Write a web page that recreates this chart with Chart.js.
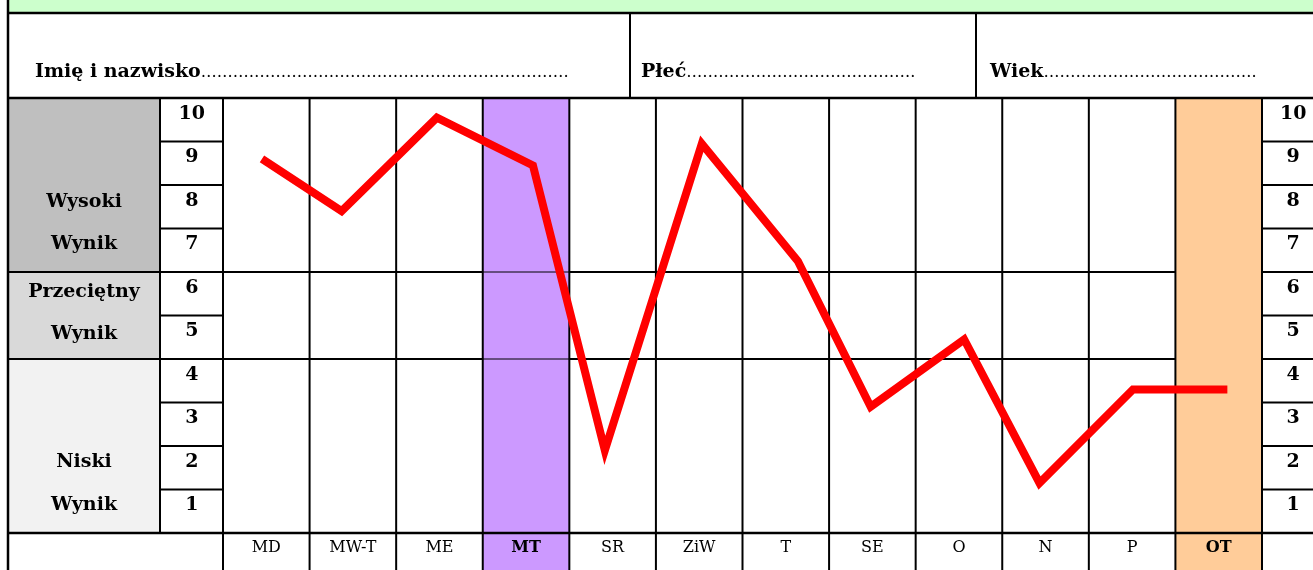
<!DOCTYPE html>
<html lang="pl">
<head>
<meta charset="utf-8">
<title>Profil wyników</title>
<script src="https://cdn.jsdelivr.net/npm/chart.js@4"></script>
<style>
    body { margin: 0; width: 1313px; height: 570px; overflow: hidden; background: #fff; position: relative; font-family: 'DejaVu Serif', serif; color: #000; }
    #wrap { position: absolute; left: 0; top: 0; width: 1326px; height: 580px; }
    .lbl { position: absolute; font-weight: bold; font-size: 19px; line-height: 20px; white-space: nowrap; }
    .dots { font-weight: normal; font-size: 16px; }
    .side { left: 8px; width: 152px; text-align: center; }
</style>
</head>
<body>
<div id="wrap"><canvas id="profileChart" width="1326" height="580"></canvas></div>

<div class="lbl" style="left:35px; top:60px;">Imię i nazwisko<span class="dots">……………………………………………………………</span></div>
<div class="lbl" style="left:641px; top:60px;">Płeć<span class="dots">…………………………………….</span></div>
<div class="lbl" style="left:990px; top:60px;">Wiek<span class="dots">………………………………….</span></div>

<div class="lbl side" style="top:190px;">Wysoki</div>
<div class="lbl side" style="top:232px;">Wynik</div>
<div class="lbl side" style="top:280px;">Przeciętny</div>
<div class="lbl side" style="top:322px;">Wynik</div>
<div class="lbl side" style="top:450px;">Niski</div>
<div class="lbl side" style="top:493px;">Wynik</div>

<script>
// dane
const categories = ['MD', 'MW-T', 'ME', 'MT', 'SR', 'ZiW', 'T', 'SE', 'O', 'N', 'P', 'OT'];
const xPositions = [0.45, 1.37, 2.47, 3.58, 4.41, 5.53, 6.64, 7.48, 8.56, 9.43, 10.51, 11.60];
const scores = [9.1, 7.9, 10.05, 8.95, 2.4, 9.45, 6.75, 3.4, 4.95, 1.65, 3.8, 3.8];
const scoreTicks = [10, 9, 8, 7, 6, 5, 4, 3, 2, 1];
const zoneBreaks = [6.5, 4.5];          // granice: wysoki / przeciętny / niski
const highlighted = { MT: '#CC99FF', OT: '#FFCC99' };
const boldCategories = ['MT', 'OT'];

const LINE = '#000';

// rysowanie ramki formularza (tła, linie tabeli)
const formPlugin = {
    id: 'formPlugin',
    beforeDraw(chart) {
        const { ctx, width, height, chartArea: a, scales: { x, y } } = chart;
        ctx.save();
        ctx.fillStyle = '#CCFFCC';
        ctx.fillRect(8, 0, width, 13);

        const yHigh = y.getPixelForValue(zoneBreaks[0]);
        const yLow = y.getPixelForValue(zoneBreaks[1]);
        ctx.fillStyle = '#BFBFBF';
        ctx.fillRect(8, a.top, 152, yHigh - a.top);
        ctx.fillStyle = '#D9D9D9';
        ctx.fillRect(8, yHigh, 152, yLow - yHigh);
        ctx.fillStyle = '#F2F2F2';
        ctx.fillRect(8, yLow, 152, a.bottom - yLow);

        categories.forEach((c, i) => {
            if (!highlighted[c]) return;
            const x0 = x.getPixelForValue(i), x1 = x.getPixelForValue(i + 1);
            ctx.fillStyle = highlighted[c];
            ctx.fillRect(x0, a.top, x1 - x0, height - a.top);
        });
        ctx.restore();
    },
    beforeDatasetsDraw(chart) {
        const { ctx, width, height, chartArea: a, scales: { x, y } } = chart;
        const hl = (x0, x1, yy, w = 2) => { ctx.lineWidth = w; ctx.beginPath(); ctx.moveTo(x0, yy); ctx.lineTo(x1, yy); ctx.stroke(); };
        const vl = (xx, y0, y1, w = 2) => { ctx.lineWidth = w; ctx.beginPath(); ctx.moveTo(xx, y0); ctx.lineTo(xx, y1); ctx.stroke(); };
        ctx.save();
        ctx.strokeStyle = LINE;

        // nagłówek
        hl(7, width, 13, 2.5);
        hl(7, width, a.top, 2.5);
        vl(8, 0, height, 2.5);
        vl(630, 13, a.top);
        vl(976, 13, a.top);

        // kolumna z nazwami stref
        vl(160, a.top, a.bottom);
        const otLeft = x.getPixelForValue(categories.indexOf('OT'));
        const otRight = x.getPixelForValue(categories.indexOf('OT') + 1);
        const mtLeft = x.getPixelForValue(categories.indexOf('MT'));
        const mtRight = x.getPixelForValue(categories.indexOf('MT') + 1);
        zoneBreaks.forEach(v => {
            const yy = y.getPixelForValue(v);
            hl(7, mtLeft, yy);
            hl(mtLeft, mtRight, yy, 1);
            hl(mtRight, otLeft, yy);
            hl(otRight, width, yy);
        });
        hl(7, width, a.bottom, 2.5);

        // podziały punktów przy osiach
        scoreTicks.slice(0, -1).forEach(t => {
            const v = t - 0.5;
            if (zoneBreaks.includes(v)) return;
            const yy = y.getPixelForValue(v);
            hl(160, a.left, yy);
            hl(a.right, width, yy);
        });

        // kolumny kategorii
        for (let i = 0; i <= categories.length; i++) {
            vl(x.getPixelForValue(i), a.top, height);
        }
        ctx.restore();
    }
};

const yTicks = {
    color: '#000',
    font: { family: "'DejaVu Serif', serif", size: 19, weight: 'bold' },
    crossAlign: 'center',
    padding: 18,
    labelOffset: -6,
    autoSkip: false
};
const setScoreTicks = s => { s.ticks = scoreTicks.map(v => ({ value: v })); };

new Chart(document.getElementById('profileChart'), {
    type: 'line',
    data: {
        datasets: [{
            data: xPositions.map((xv, i) => ({ x: xv, y: scores[i] })),
            borderColor: '#FF0000',
            borderWidth: 8,
            borderCapStyle: 'butt',
            pointRadius: 0,
            tension: 0,
            clip: false
        }]
    },
    options: {
        responsive: false,
        animation: false,
        devicePixelRatio: 1,
        layout: { padding: { left: 160, top: 98, right: 0, bottom: 0 } },
        plugins: { legend: { display: false }, tooltip: { enabled: false } },
        scales: {
            x: {
                type: 'linear',
                min: 0,
                max: categories.length,
                grid: { display: false, drawTicks: false },
                border: { display: false },
                afterBuildTicks: s => { s.ticks = categories.map((_, i) => ({ value: i + 0.5 })); },
                afterFit: s => { s.height = 47; },
                ticks: {
                    color: '#000',
                    padding: 5,
                    maxRotation: 0,
                    autoSkip: false,
                    font: ctx => ({
                        family: "'DejaVu Serif', serif",
                        size: 16,
                        weight: boldCategories.includes(categories[ctx.index]) ? 'bold' : 'normal'
                    }),
                    callback: (v, i) => categories[i]
                }
            },
            y: {
                position: 'left',
                min: 0.5,
                max: 10.5,
                grid: { display: false, drawTicks: false },
                border: { display: false },
                afterBuildTicks: setScoreTicks,
                afterFit: s => { s.width = 63; },
                ticks: yTicks
            },
            y2: {
                position: 'right',
                min: 0.5,
                max: 10.5,
                grid: { display: false, drawTicks: false },
                border: { display: false },
                afterBuildTicks: setScoreTicks,
                afterFit: s => { s.width = 64; },
                ticks: yTicks
            }
        }
    },
    plugins: [formPlugin]
});
</script>
</body>
</html>
